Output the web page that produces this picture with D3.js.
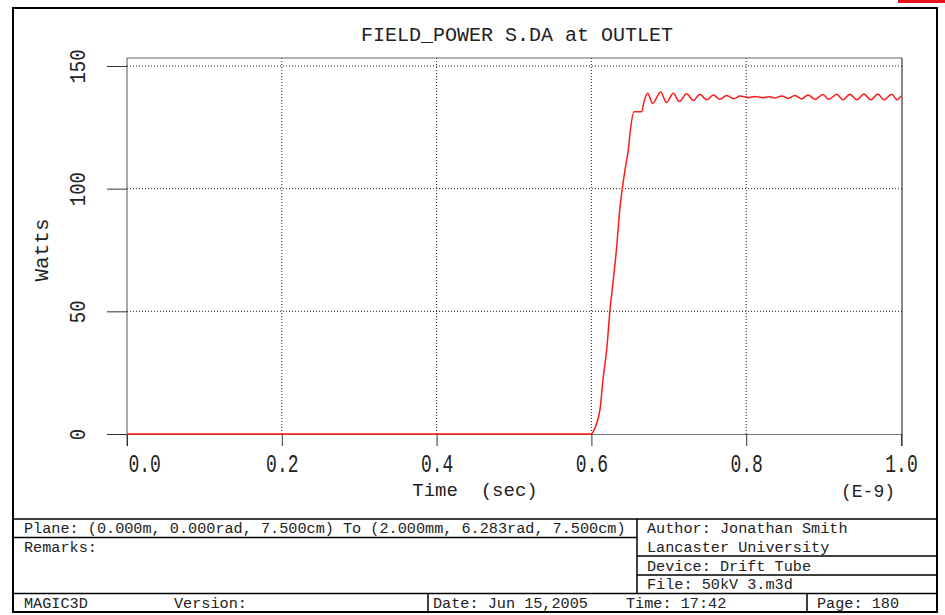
<!DOCTYPE html>
<html>
<head>
<meta charset="utf-8">
<script src="https://cdn.jsdelivr.net/npm/d3@7"></script>
<style>
body { margin: 0; background: #fff; }
svg { display: block; font-family: "Liberation Mono", "Courier New", monospace; }
text { white-space: pre; fill: #222; }
</style>
</head>
<body>
<div id="chart"></div>
<script>
/* global d3 */

// FIELD_POWER S.DA at OUTLET, time in ns (E-9 sec), power in watts
var timeNs = [0, 0.600, 0.602, 0.6068, 0.611, 0.6154, 0.6197, 0.624, 0.6283, 0.6327,
  0.637, 0.640, 0.6434, 0.6456, 0.6477, 0.6499, 0.655, 0.665, 0.668, 0.6727,
  0.679, 0.6895, 0.697, 0.7058, 0.7136, 0.723, 0.7317, 0.740, 0.749, 0.7575,
  0.766, 0.7748, 0.784, 0.792, 0.803, 0.811, 0.821, 0.829, 0.837, 0.846,
  0.854, 0.863, 0.8717, 0.880, 0.889, 0.899, 0.907, 0.917, 0.925, 0.934,
  0.943, 0.952, 0.961, 0.970, 0.978, 0.988, 0.995, 1.0];
var watts = [0, 0, 0.8, 4.4, 9.8, 23.4, 34.2, 50.5, 62.8, 76.4,
  92.7, 100.2, 107.6, 111.7, 115.8, 122.6, 131.4, 131.4, 135.5, 138.9,
  134.8, 139.4, 135.1, 138.9, 135.5, 138.7, 135.9, 138.5, 136.2, 138.2,
  136.4, 138.0, 136.7, 137.8, 137.1, 137.6, 137.1, 137.5, 137.0, 137.8,
  136.8, 138.0, 136.6, 138.2, 136.4, 138.4, 136.4, 138.5, 136.2, 138.5,
  136.2, 138.6, 136.2, 138.6, 136.2, 138.5, 136.2, 137.8];

var xTicks = [0, 0.2, 0.4, 0.6, 0.8, 1.0];
var yTicks = [0, 50, 100, 150];

var titleText = 'FIELD_POWER S.DA at OUTLET',
xLabel = 'Time  (sec)',
xUnit = '(E-9)',
yLabel = 'Watts';

var plane = 'Plane: (0.000m, 0.000rad, 7.500cm) To (2.000mm, 6.283rad, 7.500cm)';
var rightInfo = ['Author: Jonathan Smith', 'Lancaster University', 'Device: Drift Tube', 'File: 50kV 3.m3d'];
var footer = [['MAGIC3D', 24], ['Version:', 174], ['Date: Jun 15,2005', 433], ['Time: 17:42', 626], ['Page: 180', 817]];

var W = 945, H = 615;
var plotLeft = 127, plotRight = 901, plotTop = 58, zeroY = 434, top150 = 66;

var svg = d3.select('#chart').
append('svg').
attr('width', W).
attr('height', H);

var x = d3.scaleLinear().domain([0, 1]).range([plotLeft, plotRight]);
var y = d3.scaleLinear().domain([0, 150]).range([zeroY, top150]);

// stray red mark at top right of the scan
svg.append('rect').
attr('x', 898).attr('y', 0).attr('width', 47).attr('height', 3).
attr('fill', '#e8101c');

// outer border
svg.append('rect').
attr('x', 13).attr('y', 8).attr('width', 924).attr('height', 604).
attr('fill', 'none').attr('stroke', '#000').attr('stroke-width', 2);

// grid
svg.append('g').selectAll('line').
data(xTicks.slice(1, -1)).
enter().append('line').
attr('x1', d => x(d)).attr('x2', d => x(d)).
attr('y1', plotTop).attr('y2', zeroY).
attr('stroke', '#222').attr('stroke-dasharray', '1,2');

svg.append('g').selectAll('line').
data(yTicks.slice(1)).
enter().append('line').
attr('x1', plotLeft).attr('x2', plotRight + 1).
attr('y1', d => y(d)).attr('y2', d => y(d)).
attr('stroke', '#222').attr('stroke-dasharray', '1,2');

// frame
svg.append('line').attr('x1', plotLeft).attr('x2', plotRight + 1).attr('y1', plotTop).attr('y2', plotTop).
attr('stroke', '#666');
svg.append('line').attr('x1', plotLeft).attr('x2', plotLeft).attr('y1', plotTop).attr('y2', zeroY + 12).
attr('stroke', '#555');
svg.append('line').attr('x1', plotRight + 1).attr('x2', plotRight + 1).attr('y1', plotTop).attr('y2', zeroY + 12).
attr('stroke', '#111');

// x axis
var xAxis = d3.axisBottom(x).
tickValues(xTicks).
tickSize(12).
tickSizeOuter(0).
tickFormat(d3.format('.1f'));

var gx = svg.append('g').
attr('transform', 'translate(0,' + zeroY + ')').
call(xAxis);
gx.select('.domain').attr('stroke', '#777');
gx.selectAll('.tick line').attr('stroke', '#333');
gx.selectAll('.tick text').
attr('font-family', '"Liberation Mono", "Courier New", monospace').
attr('font-size', 18).
attr('fill', '#333').
attr('dy', 0).
attr('y', 38 / 1.4).
attr('transform', 'scale(1,1.4)').
attr('text-anchor', (d, i) => i === 0 ? 'start' : 'middle').
attr('x', (d, i) => i === 0 ? 1 : 0);

// y axis
var yAxis = d3.axisLeft(y).
tickValues(yTicks).
tickSize(20).
tickSizeOuter(0);

var gy = svg.append('g').
attr('transform', 'translate(' + plotLeft + ',0)').
call(yAxis);
gy.select('.domain').remove();
gy.selectAll('.tick line').attr('stroke', '#333');
gy.selectAll('.tick text').
attr('font-family', '"Liberation Mono", "Courier New", monospace').
attr('font-size', 19).
attr('fill', '#333').
attr('text-anchor', 'middle').
attr('dy', 0).
attr('x', 0).
attr('y', -42 / 1.15).
attr('transform', 'rotate(-90) scale(1,1.15)');

// data line
var line = d3.line().
x((d, i) => x(timeNs[i])).
y(d => y(d)).
curve(d3.curveMonotoneX);

svg.append('path').
datum(watts).
attr('d', line).
attr('fill', 'none').
attr('stroke', '#ff1a1a').
attr('stroke-width', 1.5);

// titles
svg.append('text').
attr('x', 517).attr('y', 41).
attr('text-anchor', 'middle').
attr('font-size', 20).
text(titleText);

svg.append('text').
attr('x', 475).attr('y', 496).
attr('text-anchor', 'middle').
attr('font-size', 19).
text(xLabel);

svg.append('text').
attr('x', 895).attr('y', 497).
attr('text-anchor', 'end').
attr('font-size', 18).
text(xUnit);

svg.append('text').
attr('transform', 'translate(48,250) rotate(-90)').
attr('text-anchor', 'middle').
attr('font-size', 21).
text(yLabel);

// info table
var tbl = svg.append('g').attr('stroke', '#000').attr('stroke-width', 1.5);
[[13, 937, 519], [13, 637, 537.5], [637, 937, 556], [637, 937, 575], [13, 937, 593.5]].forEach(function (l) {
  tbl.append('line').attr('x1', l[0]).attr('x2', l[1]).attr('y1', l[2]).attr('y2', l[2]);
});
[[637, 519, 593.5], [428, 593.5, 612], [807, 593.5, 612]].forEach(function (l) {
  tbl.append('line').attr('x1', l[0]).attr('x2', l[0]).attr('y1', l[1]).attr('y2', l[2]);
});

var info = svg.append('g').attr('font-size', 15.2);
info.append('text').attr('x', 24).attr('y', 533).text(plane);
info.append('text').attr('x', 24).attr('y', 552).text('Remarks:');
info.selectAll('.ri').
data(rightInfo).
enter().append('text').
attr('x', 647).
attr('y', (d, i) => [533, 552, 570.5, 589][i]).
text(d => d);
info.selectAll('.ft').
data(footer).
enter().append('text').
attr('x', d => d[1]).
attr('y', 608).
text(d => d[0]);
</script>
</body>
</html>
